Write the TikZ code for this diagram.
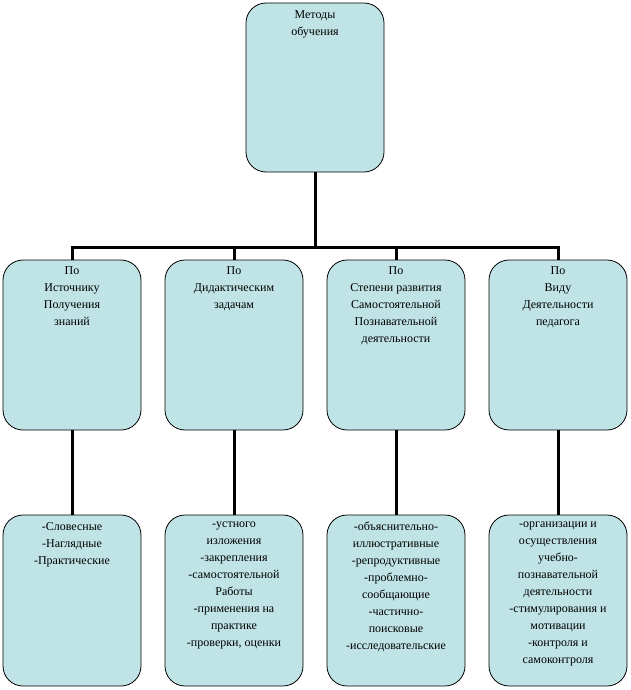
\documentclass[tikz,border=0pt]{standalone}
\usepackage{fontspec}
\setmainfont{Liberation Serif}
\definecolor{boxfill}{HTML}{C0E4E6}
\begin{document}
\begin{tikzpicture}[x=1pt,y=-1pt,
  box/.style={draw=black,line width=0.8pt,fill=boxfill,rounded corners=20pt},
  txt/.style={anchor=north,align=center,font=\fontsize{12}{17}\selectfont,inner sep=0pt},
  conn/.style={line width=3pt}]
\useasboundingbox (0,0) rectangle (630,690);
% top
\draw[box] (246,3) rectangle (384,172);
\node[txt] (t) at (315,10) {Методы\\обучения};
\coordinate (tb) at (315,172);
\coordinate (hl) at (72,247);
\coordinate (hr) at (558,247);
\draw[conn] (tb) -- (315,247);
\draw[conn] (70.5,247) -- (559.5,247);
% middle
\foreach \x/\n in {72/m1,234/m2,396/m3,558/m4}{
  \draw[box] (\x-69,260) rectangle (\x+69,430);
  \coordinate (\n top) at (\x,260);
  \coordinate (\n bot) at (\x,430);
  \coordinate (\n h) at (\x,247);
  \draw[box] (\x-69,515) rectangle (\x+69,686);
  \coordinate (\n btop) at (\x,515);
  \draw[conn] (\n h) -- (\n top);
  \draw[conn] (\n bot) -- (\n btop);
}
\node[txt] (a1) at (72,266) {По\\Источнику\\Получения\\знаний};
\node[txt] (a2) at (234,266) {По\\Дидактическим\\задачам};
\node[txt] (a3) at (396,266) {По\\Степени развития\\Самостоятельной\\Познавательной\\деятельности};
\node[txt] (a4) at (558,266) {По\\Виду\\Деятельности\\педагога};
\node[txt] (b1) at (72,522) {-Словесные\\-Наглядные\\-Практические};
\node[txt] (b2) at (234,522) {-устного\\изложения\\-закрепления\\-самостоятельной\\Работы\\-применения на\\практике\\-проверки, оценки};
\node[txt] (b3) at (396,522) {-объяснительно-\\иллюстративные\\-репродуктивные\\-проблемно-\\сообщающие\\-частично-\\поисковые\\-исследовательские};
\node[txt] (b4) at (558,522) {-организации и\\осуществления\\учебно-\\познавательной\\деятельности\\-стимулирования и\\мотивации\\-контроля и\\самоконтроля};
\end{tikzpicture}
\end{document}
